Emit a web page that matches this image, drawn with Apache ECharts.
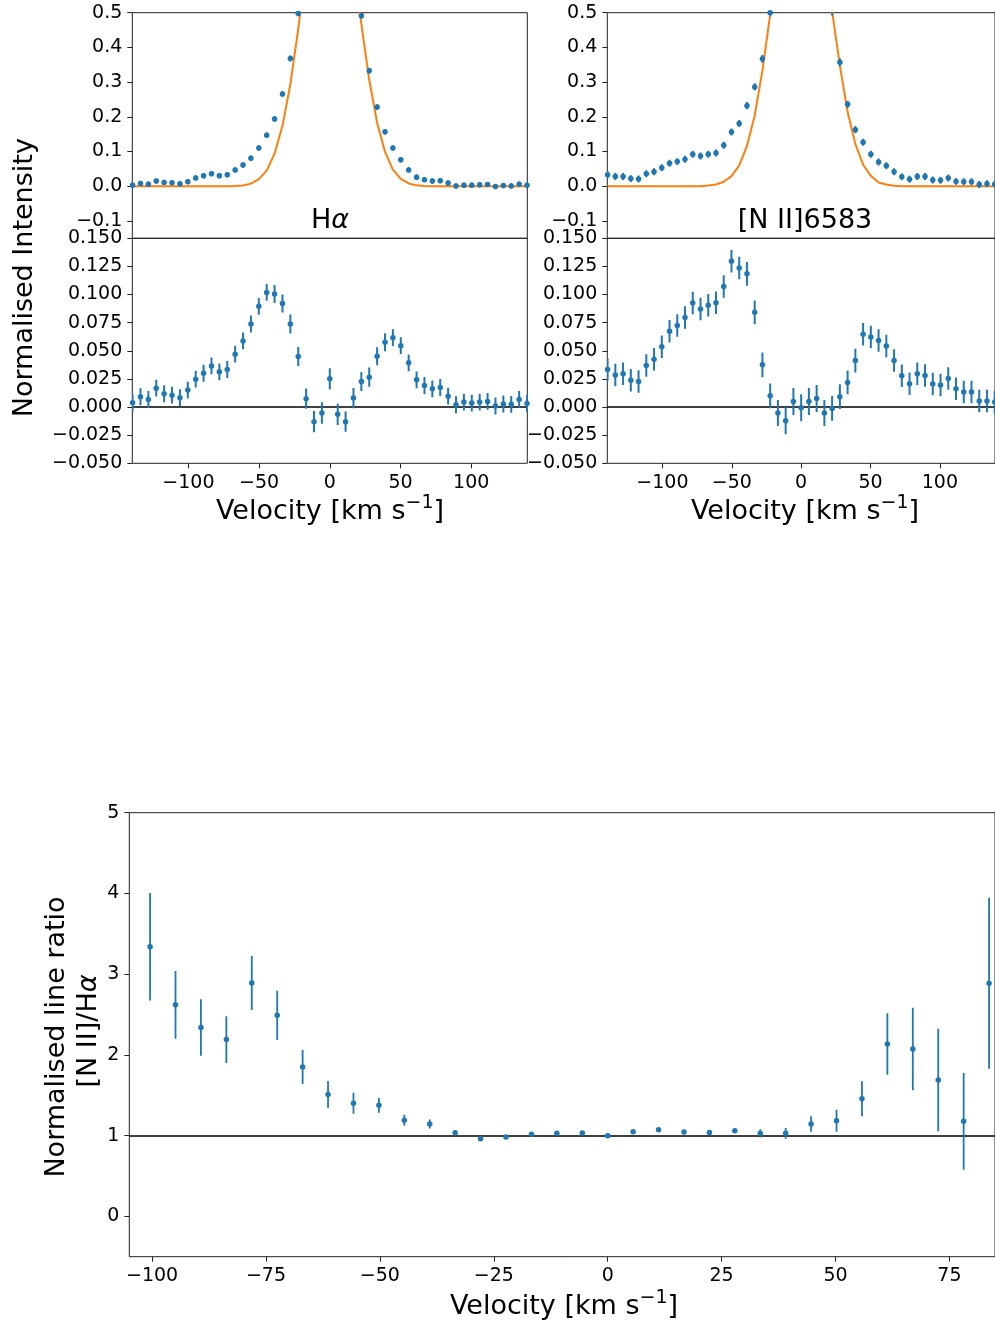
<!DOCTYPE html>
<html>
<head>
<meta charset="utf-8">
<script src="https://cdn.jsdelivr.net/npm/echarts@6/dist/echarts.min.js"></script>
<style>
  html, body { margin: 0; padding: 0; background: #fff; }
  #chart { width: 995px; height: 1326px; }
</style>
</head>
<body>
<div id="chart"></div>
<script>
// Velocity grid of the spectra (km/s), one value per spectral pixel
const velocity = [
  -139.50, -133.92, -128.34, -122.76, -117.18, -111.60, -106.02, -100.44, -94.86, -89.28,
  -83.70, -78.12, -72.54, -66.96, -61.38, -55.80, -50.22, -44.64, -39.06, -33.48,
  -27.90, -22.32, -16.74, -11.16, -5.58, 0, 5.58, 11.16, 16.74, 22.32,
  27.90, 33.48, 39.06, 44.64, 50.22, 55.80, 61.38, 66.96, 72.54, 78.12,
  83.70, 89.28, 94.86, 100.44, 106.02, 111.60, 117.18, 122.76, 128.34, 133.92, 139.50
];

// H-alpha: observed normalised profile, model profile, residual and its uncertainty
const haProfile = [
  0.003, 0.008, 0.006, 0.015, 0.011, 0.010, 0.007, 0.013, 0.024, 0.030,
  0.036, 0.030, 0.033, 0.047, 0.061, 0.081, 0.110, 0.147, 0.194, 0.266,
  0.368, 0.498, 0.651, 0.809, 0.947, 1.025, 0.946, 0.809, 0.651, 0.491,
  0.333, 0.228, 0.157, 0.110, 0.076, 0.047, 0.026, 0.019, 0.015, 0.016,
  0.009, 0.001, 0.003, 0.003, 0.004, 0.005, -0.001, 0.002, 0.001, 0.006, 0.003
];
const haModel = [
  0, 0, 0, 0, 0, 0, 0, 0, 0, 0,
  0, 0, 0, 0.0008, 0.002, 0.0075, 0.0205, 0.045, 0.094, 0.174,
  0.294, 0.453, 0.644, 0.822, 0.952, 1.0, 0.952, 0.822, 0.644, 0.468,
  0.306, 0.183, 0.099, 0.048, 0.021, 0.008, 0.0025, 0.0008, 0, 0,
  0, 0, 0, 0, 0, 0, 0, 0, 0, 0, 0
];
const haResidual = [
  0.0038, 0.0092, 0.0068, 0.0168, 0.0118, 0.0106, 0.0083, 0.0151, 0.0248, 0.0301,
  0.0366, 0.0313, 0.0334, 0.0470, 0.0588, 0.0738, 0.0895, 0.1019, 0.1004, 0.0921,
  0.0738, 0.0449, 0.0074, -0.0130, -0.0053, 0.0251, -0.0065, -0.0130, 0.0080, 0.0227,
  0.0266, 0.0452, 0.0576, 0.0617, 0.0546, 0.0393, 0.0242, 0.0192, 0.0162, 0.0174,
  0.0097, 0.0021, 0.0044, 0.0035, 0.0044, 0.0050, 0.0009, 0.0027, 0.0024, 0.0068, 0.0032
];
const haError = [
  0.0075, 0.0075, 0.0075, 0.0075, 0.0075, 0.0075, 0.0075, 0.0075, 0.0075, 0.0075,
  0.0075, 0.0075, 0.0075, 0.0075, 0.0075, 0.0075, 0.0075, 0.0075, 0.008, 0.008,
  0.0085, 0.0085, 0.009, 0.0095, 0.0095, 0.0095, 0.0095, 0.009, 0.009, 0.0085,
  0.0085, 0.008, 0.008, 0.0075, 0.0075, 0.0075, 0.0075, 0.0075, 0.0075, 0.0075,
  0.0075, 0.0075, 0.0075, 0.0075, 0.0075, 0.0075, 0.0075, 0.0075, 0.0075, 0.0075, 0.0075
];

// [N II] 6583: observed normalised profile, model profile, residual and its uncertainty
const niiProfile = [
  0.033, 0.028, 0.028, 0.022, 0.021, 0.036, 0.042, 0.053, 0.066, 0.071,
  0.078, 0.092, 0.087, 0.092, 0.096, 0.118, 0.156, 0.181, 0.232, 0.286,
  0.367, 0.500, 0.673, 0.829, 0.963, 0.999, 0.963, 0.849, 0.673, 0.503,
  0.357, 0.236, 0.163, 0.127, 0.092, 0.070, 0.059, 0.042, 0.027, 0.020,
  0.028, 0.028, 0.018, 0.017, 0.024, 0.014, 0.013, 0.013, 0.005, 0.007, 0.006
];
const niiModel = [
  0, 0, 0, 0, 0, 0, 0, 0, 0, 0,
  0, 0, 0, 0.002, 0.005, 0.013, 0.029, 0.060, 0.116, 0.204,
  0.333, 0.495, 0.678, 0.841, 0.958, 1.0, 0.958, 0.841, 0.678, 0.504,
  0.348, 0.214, 0.122, 0.062, 0.030, 0.011, 0.005, 0.0015, 0, 0,
  0, 0, 0, 0, 0, 0, 0, 0, 0, 0, 0
];
const niiResidual = [
  0.0334, 0.0286, 0.0295, 0.0239, 0.0227, 0.0369, 0.0425, 0.0535, 0.0673, 0.0726,
  0.0797, 0.0924, 0.0871, 0.0904, 0.0927, 0.1072, 0.1296, 0.1237, 0.1184, 0.0842,
  0.0375, 0.0100, -0.0053, -0.0121, 0.0050, -0.0006, 0.0050, 0.0077, -0.0053, -0.0012,
  0.0092, 0.0219, 0.0413, 0.0647, 0.0623, 0.0591, 0.0543, 0.0413, 0.0278, 0.0207,
  0.0295, 0.0281, 0.0204, 0.0195, 0.0254, 0.0162, 0.0133, 0.0133, 0.0053, 0.0053, 0.0045
];
const niiError = [
  0.010, 0.010, 0.010, 0.010, 0.010, 0.010, 0.010, 0.010, 0.010, 0.010,
  0.010, 0.010, 0.010, 0.010, 0.010, 0.010, 0.010, 0.010, 0.0105, 0.0105,
  0.011, 0.011, 0.0115, 0.012, 0.012, 0.012, 0.012, 0.012, 0.0115, 0.011,
  0.011, 0.0105, 0.0105, 0.010, 0.010, 0.010, 0.010, 0.010, 0.010, 0.010,
  0.010, 0.010, 0.010, 0.010, 0.010, 0.010, 0.010, 0.010, 0.010, 0.010, 0.010
];

// Normalised [N II]/H-alpha line ratio across the profile
const ratioVelocity = [
  -100.44, -94.86, -89.28, -83.70, -78.12, -72.54, -66.96, -61.38, -55.80, -50.22,
  -44.64, -39.06, -33.48, -27.90, -22.32, -16.74, -11.16, -5.58, 0, 5.58,
  11.16, 16.74, 22.32, 27.90, 33.48, 39.06, 44.64, 50.22, 55.80, 61.38,
  66.96, 72.54, 78.12, 83.70
];
const ratioValue = [
  3.34, 2.62, 2.34, 2.19, 2.89, 2.49, 1.85, 1.51, 1.40, 1.375,
  1.19, 1.144, 1.036, 0.962, 0.983, 1.016, 1.029, 1.031, 0.999, 1.048,
  1.073, 1.045, 1.040, 1.061, 1.028, 1.028, 1.144, 1.185, 1.457, 2.135,
  2.073, 1.689, 1.177, 2.887
];
const ratioError = [
  0.665, 0.42, 0.35, 0.29, 0.335, 0.305, 0.21, 0.165, 0.13, 0.093,
  0.068, 0.055, 0.025, 0.02, 0.015, 0.012, 0.012, 0.012, 0.01, 0.012,
  0.012, 0.015, 0.02, 0.025, 0.05, 0.066, 0.095, 0.136, 0.217, 0.38,
  0.51, 0.636, 0.60, 1.06
];

// Tick positions
const velocityTicks = [-100, -50, 0, 50, 100];
const profileTicks = [-0.1, 0, 0.1, 0.2, 0.3, 0.4, 0.5];
const residualTicks = [-0.05, -0.025, 0, 0.025, 0.05, 0.075, 0.1, 0.125, 0.15];
const ratioVelocityTicks = [-100, -75, -50, -25, 0, 25, 50, 75];
const ratioTicks = [0, 1, 2, 3, 4, 5];

const BLUE = '#1f77b4';
const ORANGE = '#ff7f0e';
const FONT = 'DejaVu Sans';
const minus = s => s.replace('-', '\u2212');

function pairs(xs, ys) { return xs.map((x, i) => [x, ys[i]]); }

function valueAxis(gridIndex, min, max, ticks, digits, showLabels) {
  return {
    type: 'value', gridIndex, min, max,
    splitLine: { show: false },
    axisLine: { show: false, onZero: false },
    axisTick: {
      show: showLabels, length: 5, customValues: ticks,
      lineStyle: { color: '#222', width: 1 }
    },
    axisLabel: {
      show: showLabels, customValues: ticks, margin: 10,
      fontFamily: FONT, fontSize: 19, color: '#000',
      formatter: v => minus(digits === null ? String(Math.round(v)) : Number(v).toFixed(digits))
    }
  };
}

function errorBars(xs, ys, es, axisIndex, width) {
  return {
    type: 'custom', xAxisIndex: axisIndex, yAxisIndex: axisIndex,
    clip: true, silent: true, z: 3,
    data: xs.map((x, i) => [x, ys[i] - es[i], ys[i] + es[i]]),
    encode: { x: 0, y: [1, 2] },
    renderItem: (params, api) => {
      const a = api.coord([api.value(0), api.value(1)]);
      const b = api.coord([api.value(0), api.value(2)]);
      return {
        type: 'line',
        shape: { x1: a[0], y1: a[1], x2: b[0], y2: b[1] },
        style: { stroke: BLUE, lineWidth: width }
      };
    }
  };
}

function points(xs, ys, axisIndex, size, refLine) {
  const s = {
    type: 'scatter', xAxisIndex: axisIndex, yAxisIndex: axisIndex,
    data: pairs(xs, ys), symbolSize: size, clip: true, z: 4,
    itemStyle: { color: BLUE, opacity: 1 }, silent: true
  };
  if (refLine !== undefined) {
    s.markLine = {
      silent: true, symbol: ['none', 'none'], label: { show: false },
      lineStyle: { color: '#000', width: 1.6, type: 'solid' },
      data: [{ yAxis: refLine }], z: 2
    };
  }
  return s;
}

function modelLine(xs, ys, axisIndex) {
  return {
    type: 'line', xAxisIndex: axisIndex, yAxisIndex: axisIndex,
    data: pairs(xs, ys), showSymbol: false, clip: true, silent: true, z: 2,
    lineStyle: { color: ORANGE, width: 2 }
  };
}

const gridBox = { show: true, borderColor: '#222', borderWidth: 1, backgroundColor: 'transparent' };

const option = {
  animation: false,
  backgroundColor: '#fff',
  grid: [
    Object.assign({ left: 132.3, top: 12.7, width: 395, height: 225.6 }, gridBox),
    Object.assign({ left: 132.3, top: 238.3, width: 395, height: 225 }, gridBox),
    Object.assign({ left: 607.3, top: 12.7, width: 395, height: 225.6 }, gridBox),
    Object.assign({ left: 607.3, top: 238.3, width: 395, height: 225 }, gridBox),
    Object.assign({ left: 129.3, top: 812.7, width: 870.2, height: 444 }, gridBox)
  ],
  xAxis: [
    valueAxis(0, -139.7, 139.7, velocityTicks, 0, false),
    valueAxis(1, -139.7, 139.7, velocityTicks, null, true),
    valueAxis(2, -139.7, 139.7, velocityTicks, 0, false),
    valueAxis(3, -139.7, 139.7, velocityTicks, null, true),
    valueAxis(4, -105, 85, ratioVelocityTicks, null, true)
  ],
  yAxis: [
    valueAxis(0, -0.15, 0.5, profileTicks, 1, true),
    valueAxis(1, -0.05, 0.15, residualTicks, 3, true),
    valueAxis(2, -0.15, 0.5, profileTicks, 1, true),
    valueAxis(3, -0.05, 0.15, residualTicks, 3, true),
    valueAxis(4, -0.5, 5, ratioTicks, null, true)
  ],
  series: [
    modelLine(velocity, haModel, 0),
    errorBars(velocity, haProfile, haError, 0, 2),
    points(velocity, haProfile, 0, 5.5),
    errorBars(velocity, haResidual, haError, 1, 2),
    points(velocity, haResidual, 1, 5.5, 0),

    modelLine(velocity, niiModel, 2),
    errorBars(velocity, niiProfile, niiError, 2, 2),
    points(velocity, niiProfile, 2, 5.5),
    errorBars(velocity, niiResidual, niiError, 3, 2),
    points(velocity, niiResidual, 3, 5.5, 0),

    errorBars(ratioVelocity, ratioValue, ratioError, 4, 1.8),
    points(ratioVelocity, ratioValue, 4, 5.5, 1)
  ],
  graphic: []
};

// Axis titles and panel titles; the superscript sits at the top of a taller line box
const labelStyle = (text) => ({
  text, fill: '#000', fontFamily: FONT, fontSize: 27,
  align: 'center', verticalAlign: 'middle',
  rich: {
    i: { fontFamily: FONT, fontSize: 27, fontStyle: 'italic', fill: '#000', lineHeight: 27 },
    n: { fontFamily: FONT, fontSize: 27, fill: '#000', lineHeight: 27 },
    b: { fontFamily: FONT, fontSize: 27, fill: '#000', lineHeight: 32, verticalAlign: 'bottom' },
    sup: { fontFamily: FONT, fontSize: 19, fill: '#000', lineHeight: 19, verticalAlign: 'top' }
  }
});

const velocityLabel = '{b|Velocity [km s}{sup|\u22121}{b|]}';
option.graphic = [
  { type: 'text', x: 25.3, y: 277.7, rotation: Math.PI / 2, style: labelStyle('Normalised Intensity') },
  { type: 'text', x: 330, y: 221, style: labelStyle('{n|H}{i|\u03b1}') },
  { type: 'text', x: 805, y: 221, style: labelStyle('[N II]6583') },
  { type: 'text', x: 330, y: 509.5, style: labelStyle(velocityLabel) },
  { type: 'text', x: 805, y: 509.5, style: labelStyle(velocityLabel) },
  { type: 'text', x: 564, y: 1304.5, style: labelStyle(velocityLabel) },
  { type: 'text', x: 57, y: 1037, rotation: Math.PI / 2, style: labelStyle('Normalised line ratio') },
  { type: 'text', x: 89, y: 1031, rotation: Math.PI / 2, style: labelStyle('{n|[N II]/H}{i|\u03b1}') }
];

const chart = echarts.init(document.getElementById('chart'), null, { renderer: 'canvas' });
chart.setOption(option);
</script>
</body>
</html>
